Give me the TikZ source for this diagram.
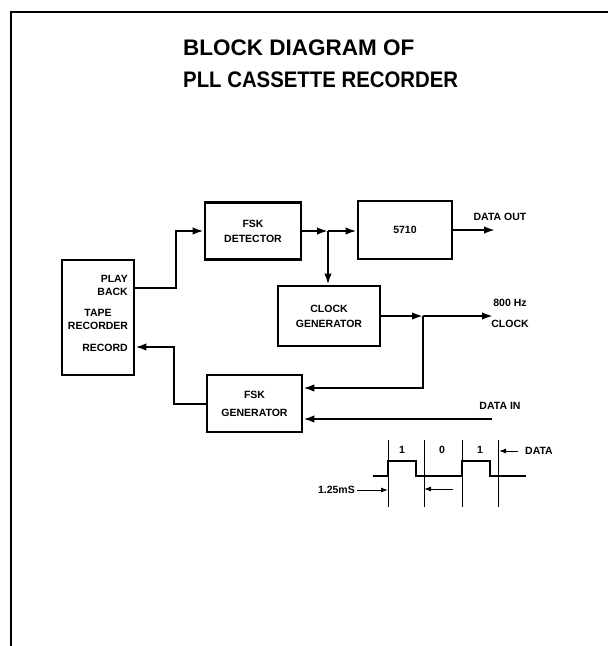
\documentclass[tikz,border=0pt]{standalone}
\usepackage{fontspec}
\usepackage{graphicx}
\setmainfont{Liberation Sans}
\usetikzlibrary{arrows.meta,calc}
\begin{document}
\begin{tikzpicture}[x=1pt,y=-1pt,
  every node/.style={font=\fontsize{10.5}{15}\selectfont\bfseries, inner sep=0pt},
  blk/.style={draw, line width=2.8pt, align=center},
  conn/.style={line width=2pt, -{Latex[length=11pt,width=7.5pt]}},
  thinline/.style={line width=1pt},
  sarr/.style={line width=1pt, -{Latex[length=7pt,width=5pt]}},
  ttl/.style={anchor=west, font=\fontsize{22.5}{27}\selectfont\bfseries}
]
\useasboundingbox (0,0) rectangle (608,646);
\draw[line width=2.4pt] (11,646) -- (11,12) -- (608,12);

% title
\node[ttl] (t1) at (183,48) {BLOCK DIAGRAM OF};
\node[ttl] (t2) at (183,80) {\scalebox{0.905}[1]{PLL CASSETTE RECORDER}};

% blocks
\node[blk, minimum width=72pt, minimum height=115pt] (tape) at (98,317.5) {};
\node[anchor=east, align=right, font=\fontsize{10.5}{13}\selectfont\bfseries] (play) at (128,285.5) {PLAY\\BACK};
\node[align=center, font=\fontsize{10.5}{13}\selectfont\bfseries] (taperec) at (98,319.5) {TAPE\\RECORDER};
\node[anchor=east] (rec) at (128,348) {RECORD};

\node[blk, minimum width=96pt, minimum height=57pt] (det) at (253,231) {FSK\\DETECTOR};
\node[blk, minimum width=94pt, minimum height=58pt] (m5710) at (405,230) {5710};
\node[blk, minimum width=102pt, minimum height=60pt] (clk) at (329,316) {CLOCK\\GENERATOR};
\node[blk, minimum width=95pt, minimum height=57pt, font=\fontsize{10.5}{18}\selectfont\bfseries] (gen) at (254.5,403.5) {FSK\\GENERATOR};

% connectors
\draw[conn] ([yshift=29.5pt]tape.east) -- ++(41,0) |- (det.west);
\draw[conn] (gen.west) -- ++(-32,0) |- ([yshift=-29.5pt]tape.east);
\coordinate (br1) at (328,231);
\draw[conn] (det.east) -- (br1);
\draw[conn] (br1) -- (m5710.west |- br1);
\draw[conn] (br1) -- (br1 |- clk.north);
\coordinate (dout) at (495,230);
\draw[conn] (m5710.east) -- (dout);
\node (doutl) at (500,217) {DATA OUT};
\coordinate (br2) at (423,316);
\draw[conn] (clk.east) -- (br2);
\coordinate (clko) at (493,316);
\draw[conn] (br2) -- (clko);
\draw[conn] (br2) |- ([yshift=15.5pt]gen.east);
\node (hz) at (510,303) {800 Hz};
\node (clkl) at (510,324) {CLOCK};
\coordinate (din) at (492,419);
\draw[conn] (din) -- ([yshift=-15.5pt]gen.east);
\node (dinl) at (500,406) {DATA IN};

% timing diagram
\draw[line width=2pt] (373,476) -- (388,476) -- (388,461) -- (416,461) -- (416,476)
  -- (462,476) -- (462,461) -- (490,461) -- (490,476) -- (526,476);
\foreach \x in {388,424,462,498} \draw[thinline] (\x,440) -- (\x,507);
\node (b1) at (402,450) {1};
\node (b2) at (442,450) {0};
\node (b3) at (480,450) {1};
\node[anchor=west] (datal) at (525,451) {DATA};
\coordinate (dtip) at (499,451);
\draw[sarr] ([xshift=-7pt]datal.west) -- (dtip);
\node[anchor=east] (ms) at (355,490) {1.25mS};
\coordinate (t1tip) at (388,490);
\draw[sarr] ([xshift=2pt]ms.east) -- (t1tip);
\coordinate (t2s) at (453,489);
\coordinate (t2tip) at (424,489);
\draw[sarr] (t2s) -- (t2tip);
\end{tikzpicture}
\end{document}
